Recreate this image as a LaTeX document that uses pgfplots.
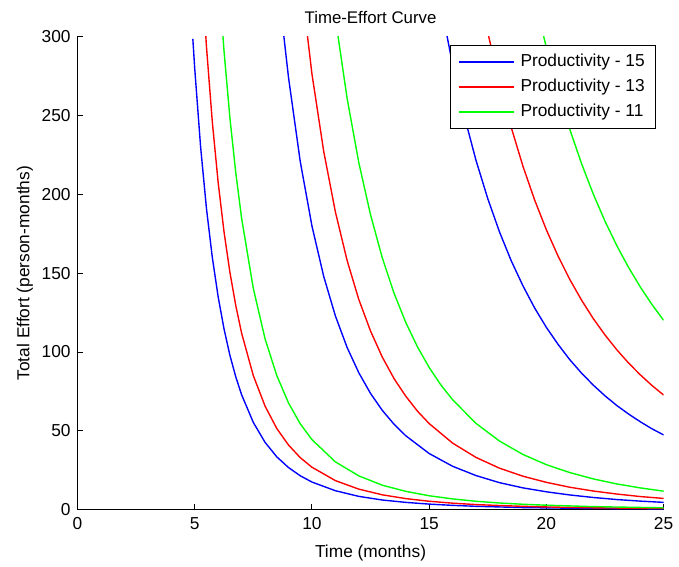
\documentclass[border=0pt]{standalone}
\usepackage{fontspec}
\setmainfont{Liberation Sans}
\usepackage{pgfplots}
\pgfplotsset{compat=1.18}
\definecolor{mBlue}{RGB}{0,0,255}
\definecolor{mRed}{RGB}{255,0,0}
\definecolor{mGreen}{RGB}{0,255,0}
\begin{document}
\fontsize{17.5}{21}\selectfont
\begin{tikzpicture}
\begin{axis}[scale only axis,width=590bp,height=476bp,
  xmin=0,xmax=25,ymin=0,ymax=300,
  xtick={0,5,...,25},ytick={0,50,...,300},
  axis x line*=bottom,axis y line*=left,
  axis line style={-,line width=0.9bp},
  tick align=inside,major tick length=6bp,
  tick style={black,line width=0.9bp},
  /pgf/number format/assume math mode=true,
  xticklabel style={yshift=-2bp},
  yticklabel style={xshift=-1bp},
  title={Time-Effort Curve},
  title style={font=\fontsize{17}{20}\selectfont,yshift=1bp},
  xlabel={Time (months)},ylabel={Total Effort (person-months)},
  xlabel style={yshift=-3bp},ylabel style={yshift=-3bp},
  legend style={at={(1,1)},anchor=north east,xshift=-8bp,yshift=-8bp,
                draw=black,line width=1.1bp,inner xsep=8.5bp,inner ysep=7bp,
                row sep=6bp},
  legend cell align=left,
  legend image code/.code={\fill[#1,draw=none] (0bp,-0.8bp) rectangle (55bp,0.8bp);
                           \path (59bp,0bp);},
  every axis plot/.append style={line width=1.4bp}]
% smallest size
\addplot[mBlue] coordinates {(4.92,298.7)(5,280.0)(5.25,230.4)(5.5,191.2)(5.75,160.1)(6,135.0)(6.25,114.7)(6.5,98.0)(6.75,84.3)(7,72.9)(7.5,55.3)(8,42.7)(8.5,33.5)(9,26.7)(9.5,21.5)(10,17.5)(11,12.0)(12,8.4)(13,6.1)(14,4.6)(15,3.5)(16,2.7)(17,2.1)(18,1.7)(19,1.3)(20,1.1)(22,0.75)(25,0.45)};
\addlegendentry{Productivity - 15}
\addplot[mRed] coordinates {(5.25,354.1)(5.5,294.0)(5.75,246.1)(6,207.6)(6.25,176.3)(6.5,150.7)(6.75,129.6)(7,112.0)(7.5,85.0)(8,65.7)(8.5,51.5)(9,41.0)(9.5,33.0)(10,26.9)(11,18.4)(12,13.0)(13,9.4)(14,7.0)(15,5.3)(16,4.1)(17,3.2)(18,2.6)(19,2.1)(20,1.7)(22,1.15)(25,0.69)};
\addlegendentry{Productivity - 13}
\addplot[mGreen] coordinates {(6,342.6)(6.25,291.0)(6.5,248.7)(6.75,213.9)(7,184.9)(7.5,140.3)(8,108.4)(8.5,85.1)(9,67.7)(9.5,54.5)(10,44.4)(11,30.3)(12,21.4)(13,15.5)(14,11.6)(15,8.8)(16,6.8)(17,5.3)(18,4.2)(19,3.4)(20,2.8)(22,1.9)(25,1.14)};
\addlegendentry{Productivity - 11}
% middle size
\addplot[mBlue,forget plot] coordinates {(8.5,344.8)(8.75,307.1)(9,274.3)(9.5,221.0)(10,180.0)(10.5,148.1)(11,122.9)(11.5,102.9)(12,86.8)(12.5,73.7)(13,63.0)(13.5,54.2)(14,46.9)(15,35.6)(16,27.5)(17,21.6)(18,17.1)(19,13.8)(20,11.3)(21,9.3)(22,7.7)(23,6.4)(24,5.4)(25,4.6)};
\addplot[mRed,forget plot] coordinates {(9.5,339.5)(10,276.5)(10.5,227.5)(11,188.9)(11.5,158.1)(12,133.3)(12.5,113.3)(13,96.8)(13.5,83.2)(14,72.0)(14.5,62.5)(15,54.6)(16,42.2)(17,33.1)(18,26.3)(19,21.2)(20,17.3)(21,14.2)(22,11.8)(23,9.9)(24,8.3)(25,7.1)};
\addplot[mGreen,forget plot] coordinates {(11,311.8)(11.5,261.0)(12,220.1)(12.5,187.0)(13,159.8)(13.5,137.4)(14,118.8)(14.5,103.3)(15,90.2)(15.5,79.1)(16,69.7)(17,54.7)(18,43.5)(19,35.0)(20,28.5)(21,23.5)(22,19.5)(23,16.3)(24,13.8)(25,11.7)};
% largest size
\addplot[mBlue,forget plot] coordinates {(15.5,320.5)(16,282.3)(16.5,249.6)(17,221.5)(17.5,197.3)(18,176.2)(18.5,157.9)(19,142.0)(19.5,127.9)(20,115.6)(20.5,104.8)(21,95.1)(21.5,86.6)(22,79.0)(22.5,72.2)(23,66.1)(23.5,60.7)(24,55.8)(24.5,51.3)(25,47.4)};
\addplot[mRed,forget plot] coordinates {(17.5,302.8)(18,270.5)(18.5,242.5)(19,217.9)(19.5,196.4)(20,177.5)(20.5,160.8)(21,146.0)(21.5,132.9)(22,121.2)(22.5,110.8)(23,101.5)(23.5,93.1)(24,85.6)(24.5,78.8)(25,72.7)};
\addplot[mGreen,forget plot] coordinates {(19.5,324.4)(20,293.1)(20.5,265.6)(21,241.2)(21.5,219.5)(22,200.2)(22.5,183.0)(23,167.6)(23.5,153.8)(24,141.4)(24.5,130.2)(25,120.1)};
\end{axis}
\path (current axis.south west) ++(-78bp,-50bp) rectangle ++(679bp,563bp);
\end{tikzpicture}
\end{document}
